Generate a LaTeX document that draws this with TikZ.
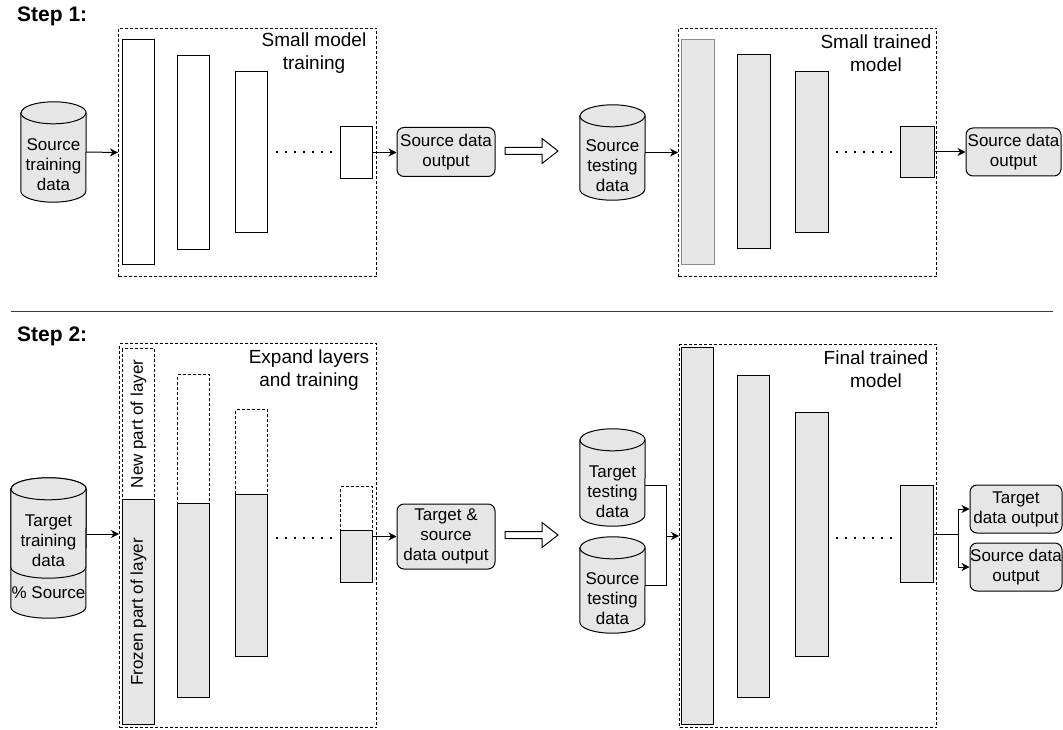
\documentclass[tikz,border=0pt]{standalone}
\usepackage{fontspec}
\setmainfont{Liberation Sans}
\usepackage{tikz}
\usetikzlibrary{arrows.meta, calc}
\tikzset{>={Stealth[length=8pt, width=8pt, inset=2.5pt]}}
\definecolor{mygray}{RGB}{230, 230, 230}
\definecolor{mygrayline}{RGB}{140, 140, 140}
\definecolor{myline}{RGB}{60, 60, 60}

\tikzset{
  lyr/.style = {draw, line width=1pt, anchor=north west, inner sep=0pt, minimum width=32},
  lyrfill/.style = {lyr, fill=mygray},
  lyrnew/.style = {lyr, dash pattern=on 3pt off 2pt},
  modelbox/.style = {draw, line width=1pt, dash pattern=on 3pt off 2pt, anchor=north west, inner sep=0pt},
  outbox/.style = {draw, line width=1pt, fill=mygray, rounded corners=7pt, align=center, inner sep=0pt, font=\fontsize{17}{20}\selectfont},
  boxlabel/.style = {align=center, font=\fontsize{19}{23}\selectfont},
  dbtext/.style = {align=center, inner sep=0pt, font=\fontsize{17}{20}\selectfont},
  steptitle/.style = {anchor=base west, inner sep=0pt, font=\bfseries\fontsize{21}{25}\selectfont},
  dots/.style = {line width=1.6pt, dash pattern=on 1.6pt off 7.4pt},
  conn/.style = {line width=1pt, ->}
}

% name, center, width, height, text shift, text
\newcommand{\datacyl}[6]{%
  \node[inner sep=0pt, minimum width=#3, minimum height=#4] (#1) at (#2) {};
  \filldraw[line width=1pt, fill=mygray] ([yshift=-11pt]#1.north west) -- ([yshift=11pt]#1.south west)
    arc[start angle=180, end angle=360, x radius=#3*0.5pt, y radius=11pt]
    -- ([yshift=-11pt]#1.north east)
    arc[start angle=0, end angle=180, x radius=#3*0.5pt, y radius=11pt] -- cycle;
  \draw[line width=1pt] ([yshift=-11pt]#1.north west)
    arc[start angle=180, end angle=360, x radius=#3*0.5pt, y radius=11pt];
  \node[dbtext] (#1txt) at ([yshift=-#5pt]#1.center) {#6};
}

\newcommand{\hollowarrow}[1]{%
  \draw[line width=1pt, fill=white] (#1) ++(0,-3.5) -- ++(37,0) -- ++(0,-9) -- ++(16,12.5)
    -- ++(-16,12.5) -- ++(0,-9) -- ++(-37,0) -- cycle;
}

\begin{document}
\begin{tikzpicture}[x=1pt, y=-1pt]
\useasboundingbox (0,0) rectangle (1063,730);

% Step 1
\node[steptitle] (t1) at (17,22) {Step 1:};
\datacyl{srctrain}{53.5,152}{65}{100}{13}{Source\\training\\data}

\node[modelbox, minimum width=258, minimum height=248] (mod1) at (118,28) {};
\node[lyr, minimum height=225] (m1a) at (122,39) {};
\node[lyr, minimum height=194] (m1b) at (177,55) {};
\node[lyr, minimum height=161] (m1c) at (235,71) {};
\node[lyr, minimum height=52] (m1d) at (340,126) {};
\draw[dots] (276,152) -- (332,152);
\node[boxlabel] (lab1) at (314,53) {Small model\\training};
\node[outbox, minimum width=98, minimum height=49] (out1) at (446,152) {Source data\\output};

\draw[conn] (srctrain.east) -- (mod1.west);
\draw[conn] (m1d.east) -- (m1d.east -| out1.west);

\hollowarrow{505,151}

\datacyl{srctest}{612.5,152.5}{65}{95}{13}{Source\\testing\\data}
\node[modelbox, minimum width=258, minimum height=248] (mod2) at (678,28) {};
\node[lyrfill, draw=mygrayline, minimum width=33, minimum height=225] (m2a) at (681,39) {};
\node[lyrfill, minimum width=33, minimum height=194] (m2b) at (737,54) {};
\node[lyrfill, minimum width=33, minimum height=161] (m2c) at (795,71) {};
\node[lyrfill, minimum width=34, minimum height=51] (m2d) at (900,126) {};
\draw[dots] (836,152) -- (892,152);
\node[boxlabel] (lab2) at (876,53) {Small trained\\model};
\node[outbox, minimum width=95, minimum height=48] (out2) at (1013.5,152) {Source data\\output};

\draw[conn] (srctest.east) -- (srctest.east -| mod2.west);
\draw[conn] (m2d.east) -- (m2d.east -| out2.west);

\draw[line width=1pt, myline] (11,311) -- (1053,311);

% Step 2
\node[steptitle] (t2) at (17,341) {Step 2:};
\datacyl{pctsrc}{48.5,548}{75}{140}{45}{\% Source}
\datacyl{tgttrain}{48.5,528}{75}{100}{13}{Target\\training\\data}

\node[modelbox, minimum width=257, minimum height=384] (mod3) at (119,343) {};
\node[lyrnew, minimum height=151] (n1a) at (122,348) {};
\node[lyrfill, minimum height=225] (n1b) at (122,499) {};
\node[lyrnew, minimum height=129] (n2a) at (177,374) {};
\node[lyrfill, minimum height=194] (n2b) at (177,503) {};
\node[lyrnew, minimum height=85] (n3a) at (235,409) {};
\node[lyrfill, minimum height=162] (n3b) at (235,494) {};
\node[lyrnew, minimum height=44] (n4a) at (340,486) {};
\node[lyrfill, minimum height=52] (n4b) at (340,530) {};
\node[dbtext, rotate=90] (newtxt) at (n1a.center) {New part of layer};
\node[dbtext, rotate=90] (frztxt) at (n1b.center) {Frozen part of layer};
\draw[dots] (276,538) -- (332,538);
\node[boxlabel] (lab3) at (309,370) {Expand layers\\and training};
\node[outbox, minimum width=98, minimum height=65] (out3) at (446,536.5) {Target \&\\source\\data output};

\draw[conn] ([yshift=-6pt]tgttrain.east) -- ([yshift=-6pt]tgttrain.east -| mod3.west);
\draw[conn] (out3.west -| n4b.east) -- (out3.west);

\hollowarrow{505,535}

\datacyl{tgttest}{612.5,477.5}{65}{97}{14}{Target\\testing\\data}
\datacyl{srctest2}{612.5,585}{65}{96}{14}{Source\\testing\\data}
\node[modelbox, minimum width=257, minimum height=383] (mod4) at (679,344) {};
\node[lyrfill, minimum height=377] (p1) at (681,347) {};
\node[lyrfill, minimum height=322] (p2) at (737,375) {};
\node[lyrfill, minimum width=33, minimum height=244] (p3) at (795,412) {};
\node[lyrfill, minimum width=33, minimum height=97] (p4) at (900,485) {};
\draw[dots] (836,538) -- (892,538);
\node[boxlabel] (lab4) at (876,369) {Final trained\\model};
\node[outbox, minimum width=92, minimum height=48] (out4a) at (1016,509) {Target\\data output};
\node[outbox, minimum width=92, minimum height=48] (out4b) at (1016,567) {Source data\\output};

\coordinate (join) at (666,536);
\draw[line width=1pt] ([yshift=-8pt]tgttest.east) -| (join);
\draw[line width=1pt] (srctest2.east) -| (join);
\draw[conn] (join) -- (join -| mod4.west);
\draw[conn] (p4.east) -- ++(24,0) |- (out4a.west);
\draw[conn] (p4.east) -- ++(24,0) |- (out4b.west);

\end{tikzpicture}
\end{document}
